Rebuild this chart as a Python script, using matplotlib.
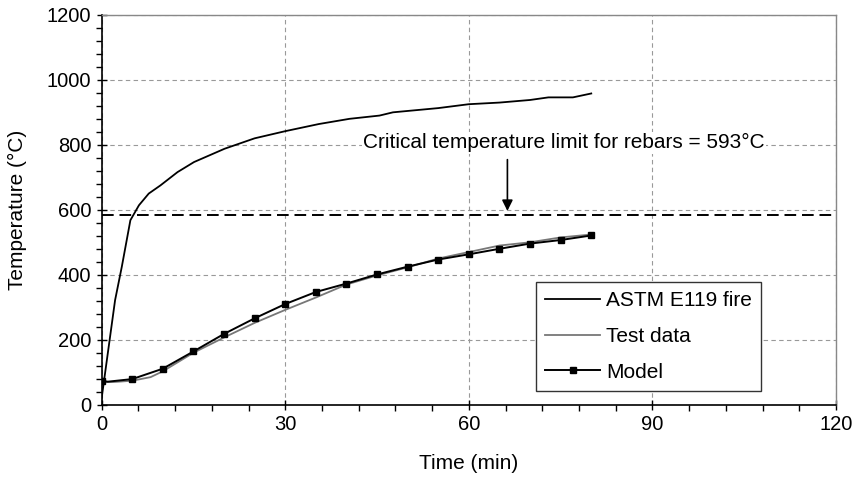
import matplotlib
matplotlib.use("Agg")
import matplotlib.pyplot as plt
from matplotlib.ticker import MultipleLocator

plt.rcParams['font.family'] = ['Liberation Sans', 'DejaVu Sans']

astm_t = [0, 2.2, 3.3, 4.7, 6.1, 7.7, 9.6, 12.4, 15.1, 20.1, 25.0, 30, 35.5, 40.5, 45.4, 47.6, 55, 60, 65, 70, 73, 77, 80]
astm_T = [20, 322, 425, 568, 614, 650, 675, 716, 747, 788, 820, 842, 864, 880, 890, 900, 913, 925, 930, 938, 946, 946, 958]

test_t = [0, 2, 5, 8, 10, 15, 20, 25, 30, 35, 40, 45, 50, 55, 60, 65, 70, 75, 80]
test_T = [70, 70, 74, 85, 103, 160, 207, 252, 292, 330, 370, 398, 423, 450, 470, 490, 500, 515, 524]

model_t = [0, 1, 5, 10, 15, 20, 25, 30, 35, 40, 45, 50, 55, 60, 65, 70, 75, 80]
model_T = [74, 71, 79, 111, 164, 218, 266, 310, 347, 373, 401, 425, 447, 463, 480, 496, 507, 521]
model_marker_idx = [0] + list(range(2, 18))

critical_T = 585

fig = plt.figure(figsize=(8.54, 4.79), dpi=100)
ax = fig.add_axes([0.119, 0.155, 0.860, 0.814])

ax.plot(astm_t, astm_T, color='black', lw=1.3, label='ASTM E119 fire', zorder=3)
ax.plot(test_t, test_T, color='#777777', lw=1.3, label='Test data', zorder=3)
ax.plot(model_t, model_T, color='black', lw=1.4, marker='s', ms=5, markevery=model_marker_idx,
        label='Model', zorder=4)
ax.axhline(critical_T, color='black', lw=1.4, ls=(0, (6, 3)), zorder=2)

ax.set_xlim(0, 120)
ax.set_ylim(0, 1200)
ax.xaxis.set_major_locator(MultipleLocator(30))
ax.xaxis.set_minor_locator(MultipleLocator(6))
ax.yaxis.set_major_locator(MultipleLocator(200))
ax.yaxis.set_minor_locator(MultipleLocator(40))
ax.grid(True, which='major', color='#999999', ls=(0, (4, 3)), lw=0.8)
ax.set_axisbelow(True)

for s in ['top', 'right']:
    ax.spines[s].set_color('#888888')
    ax.spines[s].set_linewidth(1.0)
for s in ['left', 'bottom']:
    ax.spines[s].set_color('black')
    ax.spines[s].set_linewidth(1.2)

ax.tick_params(which='major', direction='inout', length=7, width=1, labelsize=14.5, pad=4)
ax.tick_params(which='minor', direction='out', length=4, width=1)

ax.set_xlabel('Time (min)', fontsize=15, labelpad=14)
ax.set_ylabel('Temperature (°C)', fontsize=15, labelpad=14)

ax.text(42.7, 806, 'Critical temperature limit for rebars = 593°C', fontsize=15,
        ha='left', va='center', bbox=dict(facecolor='white', edgecolor='none', pad=1), zorder=5)
ax.annotate('', xy=(66.3, critical_T + 3), xytext=(66.3, 763),
            arrowprops=dict(arrowstyle='-|>', color='black', lw=1.2, mutation_scale=16), zorder=5)

leg = ax.legend(loc='lower right', bbox_to_anchor=(0.898, 0.035), fontsize=15, frameon=True,
                fancybox=False, edgecolor='#333333', framealpha=1, borderpad=0.45,
                labelspacing=0.8, handlelength=2.6, handletextpad=0.3, borderaxespad=0)
leg.get_frame().set_linewidth(1.0)

fig.savefig('out.png', dpi=100)
